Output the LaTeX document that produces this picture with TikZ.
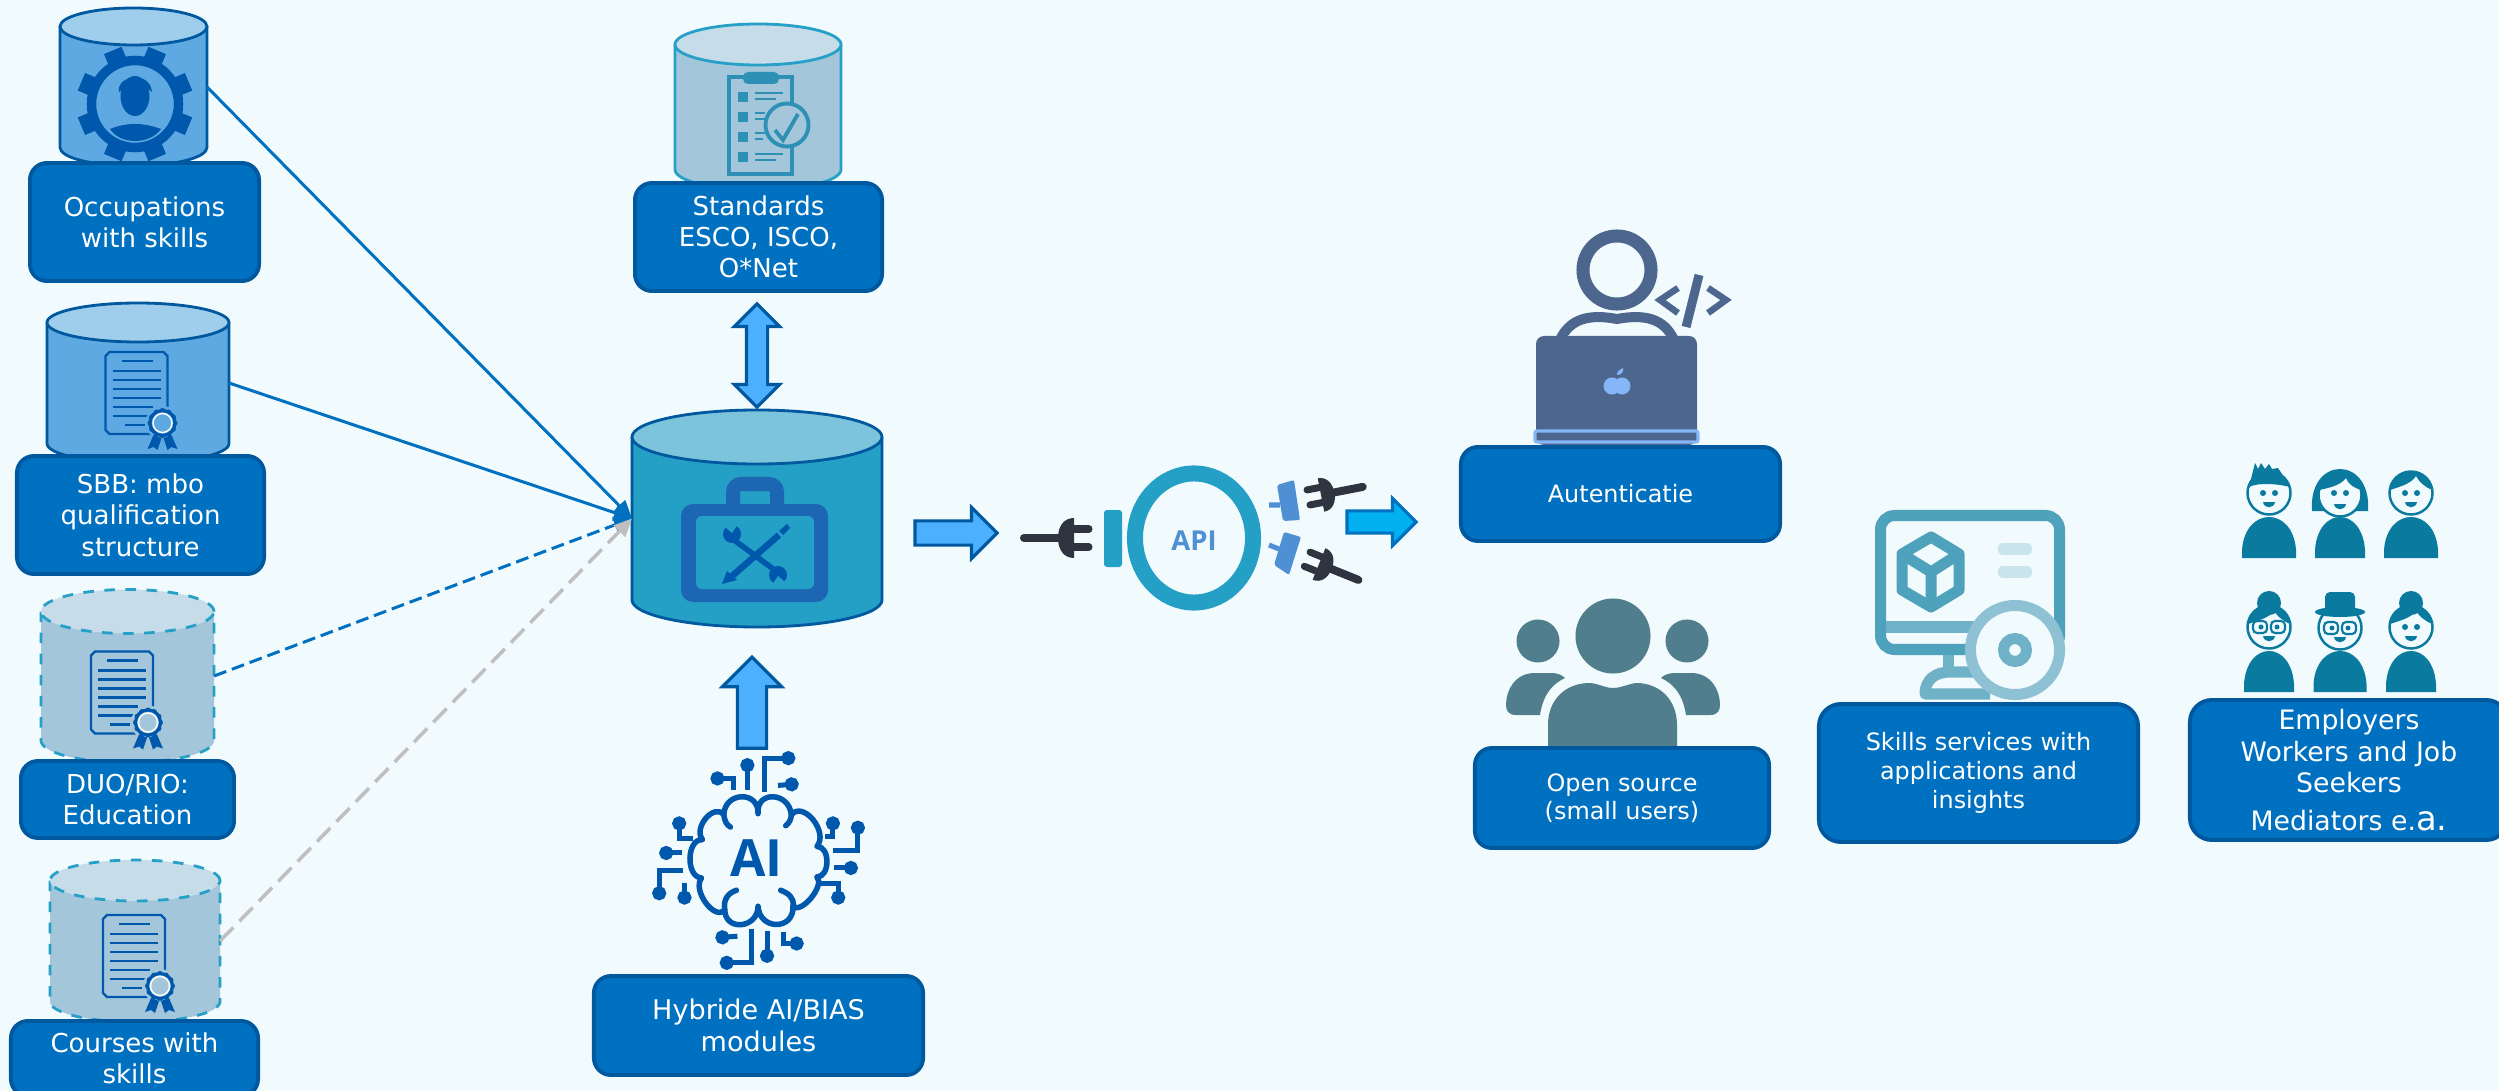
\documentclass[tikz,border=0pt]{standalone}
\usepackage{fontspec}
\setmainfont{DejaVu Sans}
\newfontfamily\iconfont{Open Sans}
\usetikzlibrary{positioning,calc,shapes.arrows,arrows.meta}
\definecolor{bgtint}{HTML}{F1FAFD}
\definecolor{boxblue}{HTML}{0070C0}
\definecolor{boxedge}{HTML}{00589F}
\definecolor{cylbody}{HTML}{5FA9E2}
\definecolor{cyltop}{HTML}{9FCDEC}
\definecolor{palebody}{HTML}{A3C6DB}
\definecolor{paletop}{HTML}{C6DCE9}
\definecolor{paleedge}{HTML}{27A0C8}
\definecolor{hubbody}{HTML}{249FC6}
\definecolor{hubtop}{HTML}{7CC3DC}
\definecolor{arrowfill}{HTML}{4DB0FF}
\definecolor{arrowcyan}{HTML}{00B0F0}
\definecolor{iconblue}{HTML}{0058AD}
\definecolor{toolblue}{HTML}{1D66B4}
\definecolor{clipteal}{HTML}{2E90B4}
\definecolor{plugdark}{HTML}{2E3440}
\definecolor{plugblue}{HTML}{4E90D3}
\definecolor{devslate}{HTML}{4C668D}
\definecolor{applesky}{HTML}{85B6F8}
\definecolor{groupteal}{HTML}{517E8C}
\definecolor{screenteal}{HTML}{4FA2BC}
\definecolor{standteal}{HTML}{6FB2C8}
\definecolor{lensteal}{HTML}{8EC1D3}
\definecolor{barteal}{HTML}{CAE4EC}
\definecolor{personteal}{HTML}{0A7A9E}

\begin{document}
\begin{tikzpicture}[x=0.01cm,y=-0.01cm]
	\tikzset{
		labelbox/.style={
			shape=rectangle,
			rounded corners=.17cm,
			draw=boxedge,
			line width=1.1pt,
			fill=boxblue,
			text=white,
			align=center,
			inner sep=0pt,
			font=\fontsize{7.4}{8.9}\selectfont
		},
		feedline/.style={line width=.85pt,draw=boxblue,-{Triangle[length=.18cm,width=.16cm]}},
		blockarrow/.style={
			shape=single arrow,
			single arrow tip angle=90,
			single arrow head indent=0pt,
			draw=boxedge,
			line width=.9pt,
			fill=arrowfill,
			inner xsep=0pt
		},
		wire/.style={draw=iconblue,line width=.05cm,{Circle[length=.14cm,width=.14cm]}-},
		pics/certicon/.style={code={
			\draw[iconblue,line width=.7pt,fill=none]
				(-27,-41) -- (27,-41) -- (31,-37) -- (31,37) -- (27,41) -- (-27,41) -- (-31,37) -- (-31,-37) -- cycle;
			\draw[iconblue,line width=.8pt] (-15,-32) -- (16,-32);
			\foreach \ly/\lx in {-22/24,-13/24,-4/24,5/24,14/16,23/12}
				\draw[iconblue,line width=.7pt] (-24,\ly) -- (\lx,\ly);
			\draw[iconblue,line width=.7pt] (-12,32) -- (8,32);
			\fill[#1] (26,30) circle[radius=.17cm];
			\fill[iconblue] (17,42) -- (11,56) -- (17,54) -- (21,57) -- (25,45) -- cycle;
			\fill[iconblue] (35,42) -- (41,56) -- (35,54) -- (31,57) -- (27,45) -- cycle;
			\foreach \sa in {0,30,...,330}
				\fill[iconblue] (26,30) ++(\sa:12) circle[radius=.03cm];
			\draw[iconblue,line width=.9pt,fill=#1] (26,30) circle[radius=.125cm];
			\draw[white,line width=.4pt] (26,30) circle[radius=.095cm];
		}},
		pics/plugicon/.style={code={
			\draw[plugdark,line width=.08cm,line cap=round] (-50,0) -- (-10,0);
			\fill[plugdark] (0,-20) .. controls (-10,-20) and (-16,-12) .. (-16,0) .. controls (-16,12) and (-10,20) .. (0,20) -- cycle;
			\draw[plugdark,line width=.07cm,line cap=round] (0,-9) -- (15,-9) (0,9) -- (15,9);
		}},
		pics/bodyshape/.style={code={
			\fill[personteal] (-#1,0) -- (-#1,-8) .. controls (-#1+3,-52) and (#1-3,-52) .. (#1,-8) -- (#1,0) -- cycle;
		}},
		pics/faceicon/.style={code={
			\draw[personteal,line width=.7pt,fill=bgtint] (0,0) circle[radius=.215cm];
			\fill[personteal] (-6,9) .. controls (-5,16) and (5,16) .. (6,9) -- cycle;
		}},
		pics/eyesicon/.style={code={
			\fill[personteal] (-6,0) circle[radius=.03cm] (6,0) circle[radius=.03cm];
		}},
		pics/specsicon/.style={code={
			\draw[personteal,line width=.6pt,rounded corners=.04cm,fill=bgtint] (-16,-6) rectangle (-2,6) (2,-6) rectangle (16,6);
			\fill[personteal] (-8,0) circle[radius=.025cm] (8,0) circle[radius=.025cm];
		}},
		pics/buncap/.style={code={
			\fill[personteal] (0,-24) circle[radius=.12cm];
			\fill[personteal] (-21,-3) .. controls (-18,-28) and (18,-28) .. (21,-3) .. controls (14,-6) and (8,-11) .. (5,-16) .. controls (0,-9) and (-12,-6) .. (-21,-3) -- cycle;
		}}
	}
	\useasboundingbox (0,0) rectangle (2499,1091);
	\fill[bgtint] (0,0) rectangle (2499,1091);

	% databases on the left and the hub
	\foreach \dbname/\cx/\cy/\rx/\ry/\hh/\bodycol/\topcol/\edgecol/\edgeline in {
		occdb/133.5/87/73.5/18.5/79/cylbody/cyltop/boxedge/solid,
		sbbdb/138/383/91/19.5/80/cylbody/cyltop/boxedge/solid,
		duodb/127.5/676/86.5/22/86.5/palebody/paletop/paleedge/dashed,
		coursedb/135/941/85/20.5/81/palebody/paletop/paleedge/dashed,
		stddb/758/107/83/20.5/83/palebody/paletop/paleedge/solid,
		hub/757/518.5/125/27/108.5/hubbody/hubtop/boxedge/solid}{
		\node[inner sep=0pt,outer sep=0pt,minimum width=\rx*.02cm,minimum height=\hh*.02cm] (\dbname) at (\cx,\cy) {};
		\filldraw[fill=\bodycol,draw=\edgecol,line width=.8pt,\edgeline] (\cx-\rx,\cy-\hh+\ry) -- (\cx-\rx,\cy+\hh-\ry)
			arc[start angle=180,end angle=360,x radius=\rx*.01cm,y radius=\ry*.01cm] -- (\cx+\rx,\cy-\hh+\ry);
		\filldraw[fill=\topcol,draw=\edgecol,line width=.8pt,\edgeline] (\cx,\cy-\hh+\ry) circle[x radius=\rx*.01cm,y radius=\ry*.01cm];
	}

	% lines into the hub
	\draw[feedline,dash pattern=on 3.7pt off 1.7pt] (duodb.east) -- (hub.west);
	\draw[feedline,draw=black!25,line width=1pt,dash pattern=on 5.4pt off 2.5pt] (coursedb.east) -- (hub.west);
	\draw[feedline] (occdb.east) -- (hub.west);
	\draw[feedline] (sbbdb.east) -- (hub.west);

	% gear with person
	\draw[iconblue,line width=.095cm] (135,104) circle[radius=.435cm];
	\foreach \ga in {22.5,67.5,...,337.5}
		\draw[iconblue,line width=.19cm,shift={(135,104)},rotate=\ga] (44,0) -- (58,0);
	\fill[iconblue] (135,96) circle[x radius=.145cm,y radius=.2cm];
	\fill[iconblue] (119,92) .. controls (116,75) and (150,70) .. (152,92) .. controls (145,84) and (126,84) .. (119,92) -- cycle;
	\fill[iconblue] (110,129) .. controls (120,125) and (128,124) .. (135,124) .. controls (142,124) and (150,125) .. (161,129) .. controls (150,145) and (120,145) .. (110,129) -- cycle;

	% certificates
	\pic at (136.5,393) {certicon=cylbody};
	\pic at (122,692.5) {certicon=palebody};
	\pic at (134,956) {certicon=palebody};

	% clipboard
	\draw[clipteal,line width=1.1pt] (729,77) rectangle (792,174);
	\fill[clipteal,rounded corners=.05cm] (743,72) rectangle (779,84);
	\foreach \ry in {97,117,137,157}
		\fill[clipteal] (738,\ry-5) rectangle (748,\ry+5);
	\draw[clipteal,line width=.6pt] (755,93) -- (783,93) (755,99) -- (776,99) (755,113) -- (765,113) (755,119) -- (765,119) (755,133) -- (765,133) (755,139) -- (763,139) (755,154) -- (783,154) (755,160) -- (776,160);
	\draw[clipteal,line width=1.1pt,fill=palebody] (787,125) circle[radius=.215cm];
	\draw[clipteal,line width=1.1pt] (775,130) -- (783,140) -- (798,114);

	% toolbox
	\draw[toolblue,line width=.14cm,rounded corners=.08cm] (733,510) -- (733,484) -- (777,484) -- (777,510);
	\fill[toolblue,rounded corners=.12cm] (681,504) rectangle (828,602);
	\fill[hubbody,rounded corners=.06cm] (696,516) rectangle (814,589);
	\draw[iconblue,line width=.055cm] (730,537) -- (780,574);
	\fill[iconblue] (732,534) circle[radius=.09cm] (778,575) circle[radius=.09cm];
	\fill[hubbody] (720,523) -- (732,533) -- (738,524) -- cycle (790,586) -- (778,576) -- (772,585) -- cycle;
	\draw[iconblue,line width=.065cm] (731,577) -- (779,535);
	\fill[iconblue] (722,584) -- (727,571) -- (737,580) -- cycle;
	\fill[iconblue] (779,531) -- (787,524) -- (790,528) -- (783,535) -- cycle;

	% AI chip wires and brain
	\begin{scope}[shift={(580,640)},x=0.003333cm,y=-0.003333cm]
		\foreach \ax/\ay/\bx/\by/\cx/\cy in {503/355/503/452/503/452,647/355/555/355/555/458,392/416/460/416/460/450,657/432/595/437/595/437,298/530/298/595/340/595,238/640/305/640/305/640,238/782/238/692/310/692,314/795/314/730/314/730,760/530/760/590/737/590,835/543/835/632/760/632,835/685/762/685/762/685,776/795/776/732/725/732,407/895/473/890/473/890,420/970/515/970/515/868,562/970/562/875/562/875,672/912/610/912/610/878}
			\draw[wire] (\ax,\ay) -- (\bx,\by) -- (\cx,\cy);
		\draw[iconblue,line width=.055cm,line join=round] (535,522)
			.. controls (528,452) and (628,455) .. (635,525)
			.. controls (671,482) and (748,577) .. (712,620)
			.. controls (752,620) and (752,712) .. (712,712)
			.. controls (737,737) and (665,825) .. (640,800)
			.. controls (644,873) and (539,873) .. (535,800)
			.. controls (535,867) and (435,877) .. (435,810)
			.. controls (406,847) and (336,752) .. (365,715)
			.. controls (317,712) and (320,597) .. (368,600)
			.. controls (339,564) and (403,489) .. (432,525)
			.. controls (435,455) and (538,452) .. cycle;
		\draw[iconblue,line width=.055cm,line cap=round] (432,525) .. controls (435,545) and (440,555) .. (452,562) (635,525) .. controls (635,535) and (630,550) .. (618,558) (435,810) .. controls (430,780) and (445,760) .. (470,752) (640,800) .. controls (645,775) and (625,760) .. (603,752);
		\node[font=\iconfont\bfseries\fontsize{14.6}{14.6}\selectfont,text=iconblue,inner sep=0pt] (ailabel) at (530,655) {AI};
	\end{scope}

	% API ring and plugs
	\draw[hubbody,line width=.16cm] (1194,538) circle[x radius=.59cm,y radius=.645cm];
	\node[font=\iconfont\bfseries\fontsize{7.8}{7.8}\selectfont,text=plugblue,inner sep=0pt] (apilabel) at (1194,541) {API};
	\fill[hubbody,rounded corners=.03cm] (1104,510) rectangle (1122,567);
	\pic at (1074,538) {plugicon};
	\pic[rotate=191,scale=.85] at (1321,495) {plugicon};
	\pic[rotate=158,scale=.85] at (1319,564) {plugicon};
	\fill[plugblue,rounded corners=.02cm] (1277,485) -- (1294,480) -- (1300,520) -- (1283,521) -- cycle;
	\fill[plugblue,rounded corners=.02cm] (1284,532) -- (1301,537) -- (1289,575) -- (1274,565) -- cycle;
	\draw[plugblue,line width=.05cm] (1269,505) -- (1280,505) (1269,545) -- (1279,549);

	% developer
	\draw[devslate,line width=.13cm] (1617,270) circle[radius=.34cm];
	\draw[devslate,line width=.1cm] (1560,340) .. controls (1570,318) and (1590,314) .. (1617,319) .. controls (1644,314) and (1664,318) .. (1674,340);
	\fill[devslate,rounded corners=.08cm] (1536,336) rectangle (1697,445);
	\draw[applesky,line width=.9pt,fill=devslate,rounded corners=.02cm] (1535,431) rectangle (1698,442);
	\fill[applesky] (1612,386) circle[radius=.085cm] (1622,386) circle[radius=.085cm];
	\fill[applesky] (1617,375) .. controls (1617,371) and (1620,369) .. (1623,368) .. controls (1624,372) and (1621,375) .. (1617,375) -- cycle;
	\draw[devslate,line width=.065cm] (1678,288) -- (1660,300) -- (1678,313);
	\draw[devslate,line width=.09cm] (1699,275) -- (1686,327);
	\draw[devslate,line width=.065cm] (1708,288) -- (1726,300) -- (1708,313);

	% group of users
	\fill[groupteal] (1613,636) circle[radius=.375cm] (1538,641) circle[radius=.215cm] (1687,641) circle[radius=.215cm];
	\fill[groupteal] (1548,746) -- (1548,725) .. controls (1548,700) and (1565,683) .. (1590,683) .. controls (1600,684) and (1605,688) .. (1613,688) .. controls (1621,688) and (1628,684) .. (1636,683) .. controls (1660,683) and (1677,700) .. (1677,725) -- (1677,746) -- cycle;
	\foreach \sx in {1,-1}
		\fill[groupteal,shift={(1613,0)},xscale=\sx] (-73,715) -- (-97,715) .. controls (-105,715) and (-107,710) .. (-107,705) .. controls (-107,690) and (-98,673) .. (-78,673) -- (-63,673) .. controls (-55,673) and (-51,675) .. (-48,678) .. controls (-61,684) and (-70,695) .. (-73,715) -- cycle;

	% monitor
	\draw[screenteal,line width=.11cm,rounded corners=.14cm] (1880.5,515.5) rectangle (2059.5,649.5);
	\draw[standteal,line width=.11cm] (1886,627) -- (1990,627);
	\draw[screenteal,line width=.11cm,line join=round] (1931,537) -- (1959,554) -- (1959,590) -- (1931,607) -- (1902,590) -- (1902,554) -- cycle (1902,554) -- (1931,572) -- (1959,554) (1931,572) -- (1931,607);
	\draw[barteal,line width=.11cm,line cap=round] (2003,549) -- (2027,549) (2003,572) -- (2027,572);
	\draw[standteal,line width=.11cm] (1948,655) -- (1948,672);
	\draw[standteal,line width=.11cm,line join=round] (1990,694) -- (1925,694) .. controls (1925,680) and (1935,672) .. (1950,672) -- (1980,672);
	\draw[lensteal,line width=.11cm,fill=bgtint] (2015,650) circle[radius=.445cm];
	\draw[standteal,line width=.11cm] (2015,650) circle[radius=.115cm];

	% people, top row and bottom row
	\foreach \px/\hw/\py in {2269/27/558,2340/25/558,2411/27/558,2269/25/692,2340/26.5/692,2411/25/692}
		\pic at (\px,\py) {bodyshape=\hw};
	\fill[personteal,shift={(2340,495)}] (-28,16) .. controls (-32,-40) and (32,-40) .. (28,16) -- cycle;
	\foreach \px/\py in {2269/493,2340/495,2411/493,2269/627,2340/628,2411/627}
		\pic at (\px,\py) {faceicon};
	\foreach \px in {2269,2340,2411}
		\pic at (\px,493) {eyesicon};
	\fill[personteal,shift={(2269,493)}] (-20,-6) -- (-16,-22) -- (-14,-30) -- (-11,-24) -- (-8,-30) -- (-4,-24) -- (0,-29) -- (3,-24) -- (9,-25) -- (13,-19) -- (21,-6) .. controls (10,-9) and (-10,-11) .. (-20,-6) -- cycle;
	\fill[personteal,shift={(2340,495)}] (-21,-5) .. controls (-18,-26) and (18,-26) .. (21,-5) .. controls (14,-7) and (8,-11) .. (6,-17) .. controls (0,-9) and (-12,-7) .. (-21,-5) -- cycle;
	\fill[personteal,shift={(2411,493)}] (-21,-3) .. controls (-18,-28) and (18,-28) .. (21,-3) .. controls (14,-6) and (8,-11) .. (5,-17) .. controls (0,-9) and (-12,-6) .. (-21,-3) -- cycle;
	\pic at (2269,627) {buncap};
	\pic at (2411,627) {buncap};
	\pic at (2411,627) {eyesicon};
	\pic at (2269,627) {specsicon};
	\pic at (2340,628) {specsicon};
	\fill[personteal,rounded corners=.05cm] (2325,592) rectangle (2355,612);
	\fill[personteal] (2340,612) circle[x radius=.25cm,y radius=.05cm];

	% block arrows
	\node[blockarrow,rotate=90,minimum height=1.03cm,inner ysep=.09cm,shape=double arrow,double arrow tip angle=90,double arrow head indent=0pt,double arrow head extend=.12cm] (bothways) at (757,355.5) {};
	\node[blockarrow,rotate=90,minimum height=.91cm,inner ysep=.13cm,single arrow head extend=.15cm] (aiarrow) at (752,710) {};
	\node[blockarrow,minimum height=.82cm,inner ysep=.105cm,single arrow head extend=.135cm] (hubarrow) at (950,533) {};
	\node[blockarrow,draw=boxblue,fill=arrowcyan,minimum height=.69cm,inner ysep=.095cm,single arrow head extend=.125cm] (apiarrow) at (1376,522) {};

	% labels
	\node[labelbox,minimum width=2.29cm,minimum height=1.18cm] (occbox) at (144.5,222) {Occupations\\with skills};
	\node[labelbox,minimum width=2.47cm,minimum height=1.18cm] (sbbbox) at (140.5,515) {SBB: mbo\\qualification\\structure};
	\node[labelbox,minimum width=2.13cm,minimum height=.77cm] (duobox) at (127.5,799.5) {DUO/RIO:\\Education};
	\node[labelbox,minimum width=2.47cm,minimum height=.75cm] (coursebox) at (134.5,1058.5) {Courses with\\skills};
	\node[labelbox,minimum width=2.47cm,minimum height=1.08cm] (stdbox) at (758.5,237) {Standards\\ESCO, ISCO,\\O*Net};
	\node[labelbox,minimum width=3.29cm,minimum height=.99cm,font=\fontsize{7.7}{9.3}\selectfont] (aibox) at (758.5,1025.5) {Hybride AI/BIAS\\modules};
	\node[labelbox,minimum width=3.19cm,minimum height=.94cm,font=\fontsize{6.8}{8.2}\selectfont] (authbox) at (1620.5,494) {Autenticatie};
	\node[labelbox,minimum width=2.94cm,minimum height=1.00cm,font=\fontsize{6.8}{8.1}\selectfont] (openbox) at (1622,798) {Open source\\(small users)};
	\node[labelbox,minimum width=3.19cm,minimum height=1.38cm,rounded corners=.22cm,font=\fontsize{6.8}{8.2}\selectfont] (skillbox) at (1978.5,773) {Skills services with\\applications and\\insights};
	\node[labelbox,minimum width=3.18cm,minimum height=1.40cm,rounded corners=.22cm,font=\fontsize{7.6}{9}\selectfont] (peoplebox) at (2349,770) {Employers\\Workers and Job\\Seekers\\[1.6pt]Mediators e.{\fontsize{9.6}{9}\selectfont a.}};
\end{tikzpicture}
\end{document}
